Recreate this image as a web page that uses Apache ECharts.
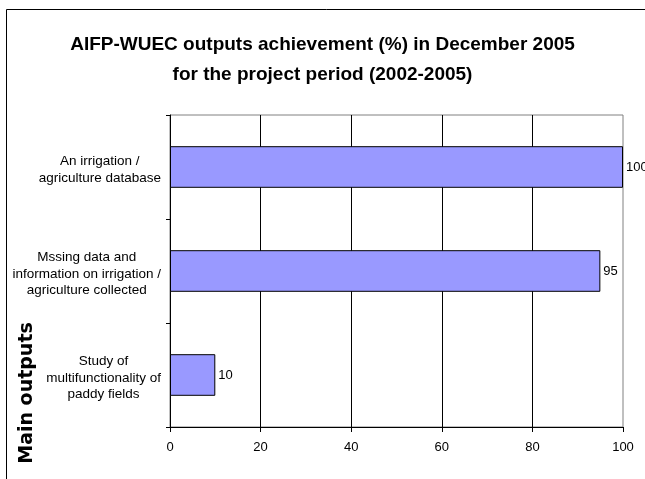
<!DOCTYPE html>
<html><head><meta charset="utf-8">
<script src="https://cdn.jsdelivr.net/npm/echarts@6/dist/echarts.min.js"></script>
<style>html,body{margin:0;padding:0;background:#fff}#c{width:645px;height:479px}</style>
</head><body><div id="c"></div>
<script>
var titleText = 'AIFP-WUEC outputs achievement (%) in December 2005\nfor the project period (2002-2005)';
var axisName = 'Main outputs';
var categories = [
  'An irrigation /\nagriculture database',
  'Mssing data and\ninformation on irrigation /\nagriculture collected',
  'Study of\nmultifunctionality of\npaddy fields'
];
var values = [100, 95, 10];
var xTicks = [0, 20, 40, 60, 80, 100];

var chart = echarts.init(document.getElementById('c'), null, {renderer: 'canvas'});
chart.setOption({
  backgroundColor: '#fff',
  animation: false,
  title: {
    text: titleText,
    left: 'center',
    top: 25,
    textStyle: {fontFamily: 'Liberation Sans', fontWeight: 'bold', fontSize: 19, color: '#000', lineHeight: 30}
  },
  graphic: [
    {type: 'rect', shape: {x: 6.5, y: 9.5, width: 700, height: 500}, style: {fill: null, stroke: '#000', lineWidth: 1}, silent: true},
    {type: 'text', x: 27, y: 393, rotation: Math.PI / 2, style: {text: axisName, font: 'bold 19px "DejaVu Sans"', fill: '#000', align: 'center', verticalAlign: 'middle'}}
  ],
  grid: {left: 170, top: 115, right: 22, bottom: 52, show: true, borderColor: '#808080', borderWidth: 1, backgroundColor: 'transparent'},
  xAxis: {
    type: 'value', min: xTicks[0], max: xTicks[xTicks.length - 1], interval: xTicks[1] - xTicks[0],
    axisLine: {show: true, lineStyle: {color: '#000', width: 1}},
    axisTick: {show: true, length: 5, lineStyle: {color: '#000'}},
    axisLabel: {color: '#000', fontFamily: 'Liberation Sans', fontSize: 13, margin: 14},
    splitLine: {show: true, showMinLine: false, showMaxLine: false, lineStyle: {color: '#000', width: 1}}
  },
  yAxis: {
    type: 'category', data: categories, inverse: true,
    axisLine: {show: true, lineStyle: {color: '#000', width: 1}},
    axisTick: {show: true, length: 4, lineStyle: {color: '#000'}},
    axisLabel: {
      color: '#000', fontFamily: 'Liberation Sans', fontSize: 13.5, margin: 9, align: 'right',
      padding: [6, 0, 0, 0],
      formatter: function (v) { return v.split('\n').map(function (s) { return '{c|' + s + '}'; }).join('\n'); },
      rich: {c: {align: 'center', fontFamily: 'Liberation Sans', fontSize: 13.5, color: '#000', lineHeight: 16.5}}
    },
    splitLine: {show: false}
  },
  series: [{
    type: 'bar', data: values, barCategoryGap: '60%',
    itemStyle: {color: '#9999FF', borderColor: '#000', borderWidth: 1},
    label: {show: true, position: 'right', distance: 3, color: '#000', fontFamily: 'Liberation Sans', fontSize: 13}
  }]
});
</script></body></html>
